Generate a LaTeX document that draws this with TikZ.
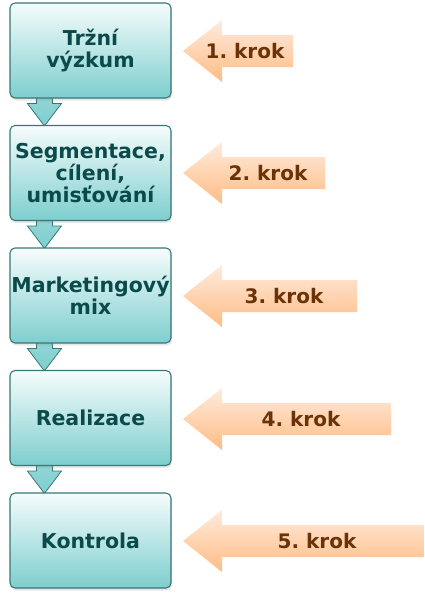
\documentclass[tikz,border=0pt]{standalone}
\usepackage{fontspec}
\setmainfont{DejaVu Sans}
\usetikzlibrary{shadows,backgrounds}
\frenchspacing
\definecolor{boxtop}{HTML}{F6FCFC}
\definecolor{boxbot}{HTML}{7ECECE}
\definecolor{boxline}{HTML}{3A7676}
\definecolor{boxtext}{HTML}{0B4A4A}
\definecolor{ortop}{HTML}{FFEBDD}
\definecolor{orbot}{HTML}{FFBC84}
\definecolor{ortext}{HTML}{6A3206}
\newcommand\krokarrow[5]{%
  \shade[orarrow] (183,#2) -- (222,#2-31) -- (222,#2-16) -- (#3,#2-16)
     -- (#3,#2+16) -- (222,#2+16) -- (222,#2+31) -- cycle;
  \node[kroktext] (#1) at (#4,#2) {#5};
}
\newcommand\downarr[2]{%
  \shade[downarrow] ([xshift=27pt,yshift=1pt]#1.south west)
    -- ([xshift=43pt,yshift=1pt]#1.south west)
    -- ([xshift=43pt,yshift=-5pt]#1.south west)
    -- ([xshift=52pt,yshift=-5pt]#1.south west)
    -- ([xshift=35pt,yshift=-1pt]#2.north west)
    -- ([xshift=18pt,yshift=-5pt]#1.south west)
    -- ([xshift=27pt,yshift=-5pt]#1.south west) -- cycle;
}
\begin{document}
\begin{tikzpicture}[x=1pt,y=-1pt,
  stepbox/.style={draw=boxline, line width=1.1pt, rounded corners=5pt,
    top color=boxtop, bottom color=boxbot,
    minimum width=161pt, minimum height=95pt, inner sep=0pt,
    align=center, text=boxtext,
    font=\fontsize{20.5}{22}\selectfont\bfseries,
    drop shadow={opacity=0.18, shadow xshift=1pt, shadow yshift=-2.5pt}},
  downarrow/.style={draw=boxline, line width=0.8pt, line join=miter,
    top color=boxbot!85!white, bottom color=boxbot},
  orarrow/.style={top color=ortop, bottom color=orbot},
  kroktext/.style={text=ortext, inner sep=0pt,
    font=\fontsize{20}{22}\selectfont\bfseries}]
\useasboundingbox (0,0) rectangle (424,600);
\node[stepbox] (b1) at (90.5,50.5) {Tržní\\výzkum};
\node[stepbox] (b2) at (90.5,173) {Segmentace,\\cílení,\\umisťování};
\node[stepbox] (b3) at (90.5,295.5) {Marketingový\\mix};
\node[stepbox] (b4) at (90.5,418) {Realizace};
\node[stepbox] (b5) at (90.5,540.5) {Kontrola};
\begin{scope}[on background layer]
  \downarr{b1}{b2}
  \downarr{b2}{b3}
  \downarr{b3}{b4}
  \downarr{b4}{b5}
\end{scope}
\krokarrow{k1}{51}{293}{245}{1. krok}
\krokarrow{k2}{173}{325}{268}{2. krok}
\krokarrow{k3}{296}{357}{284}{3. krok}
\krokarrow{k4}{419}{391}{301}{4. krok}
\krokarrow{k5}{541}{424}{317}{5. krok}
\end{tikzpicture}
\end{document}
